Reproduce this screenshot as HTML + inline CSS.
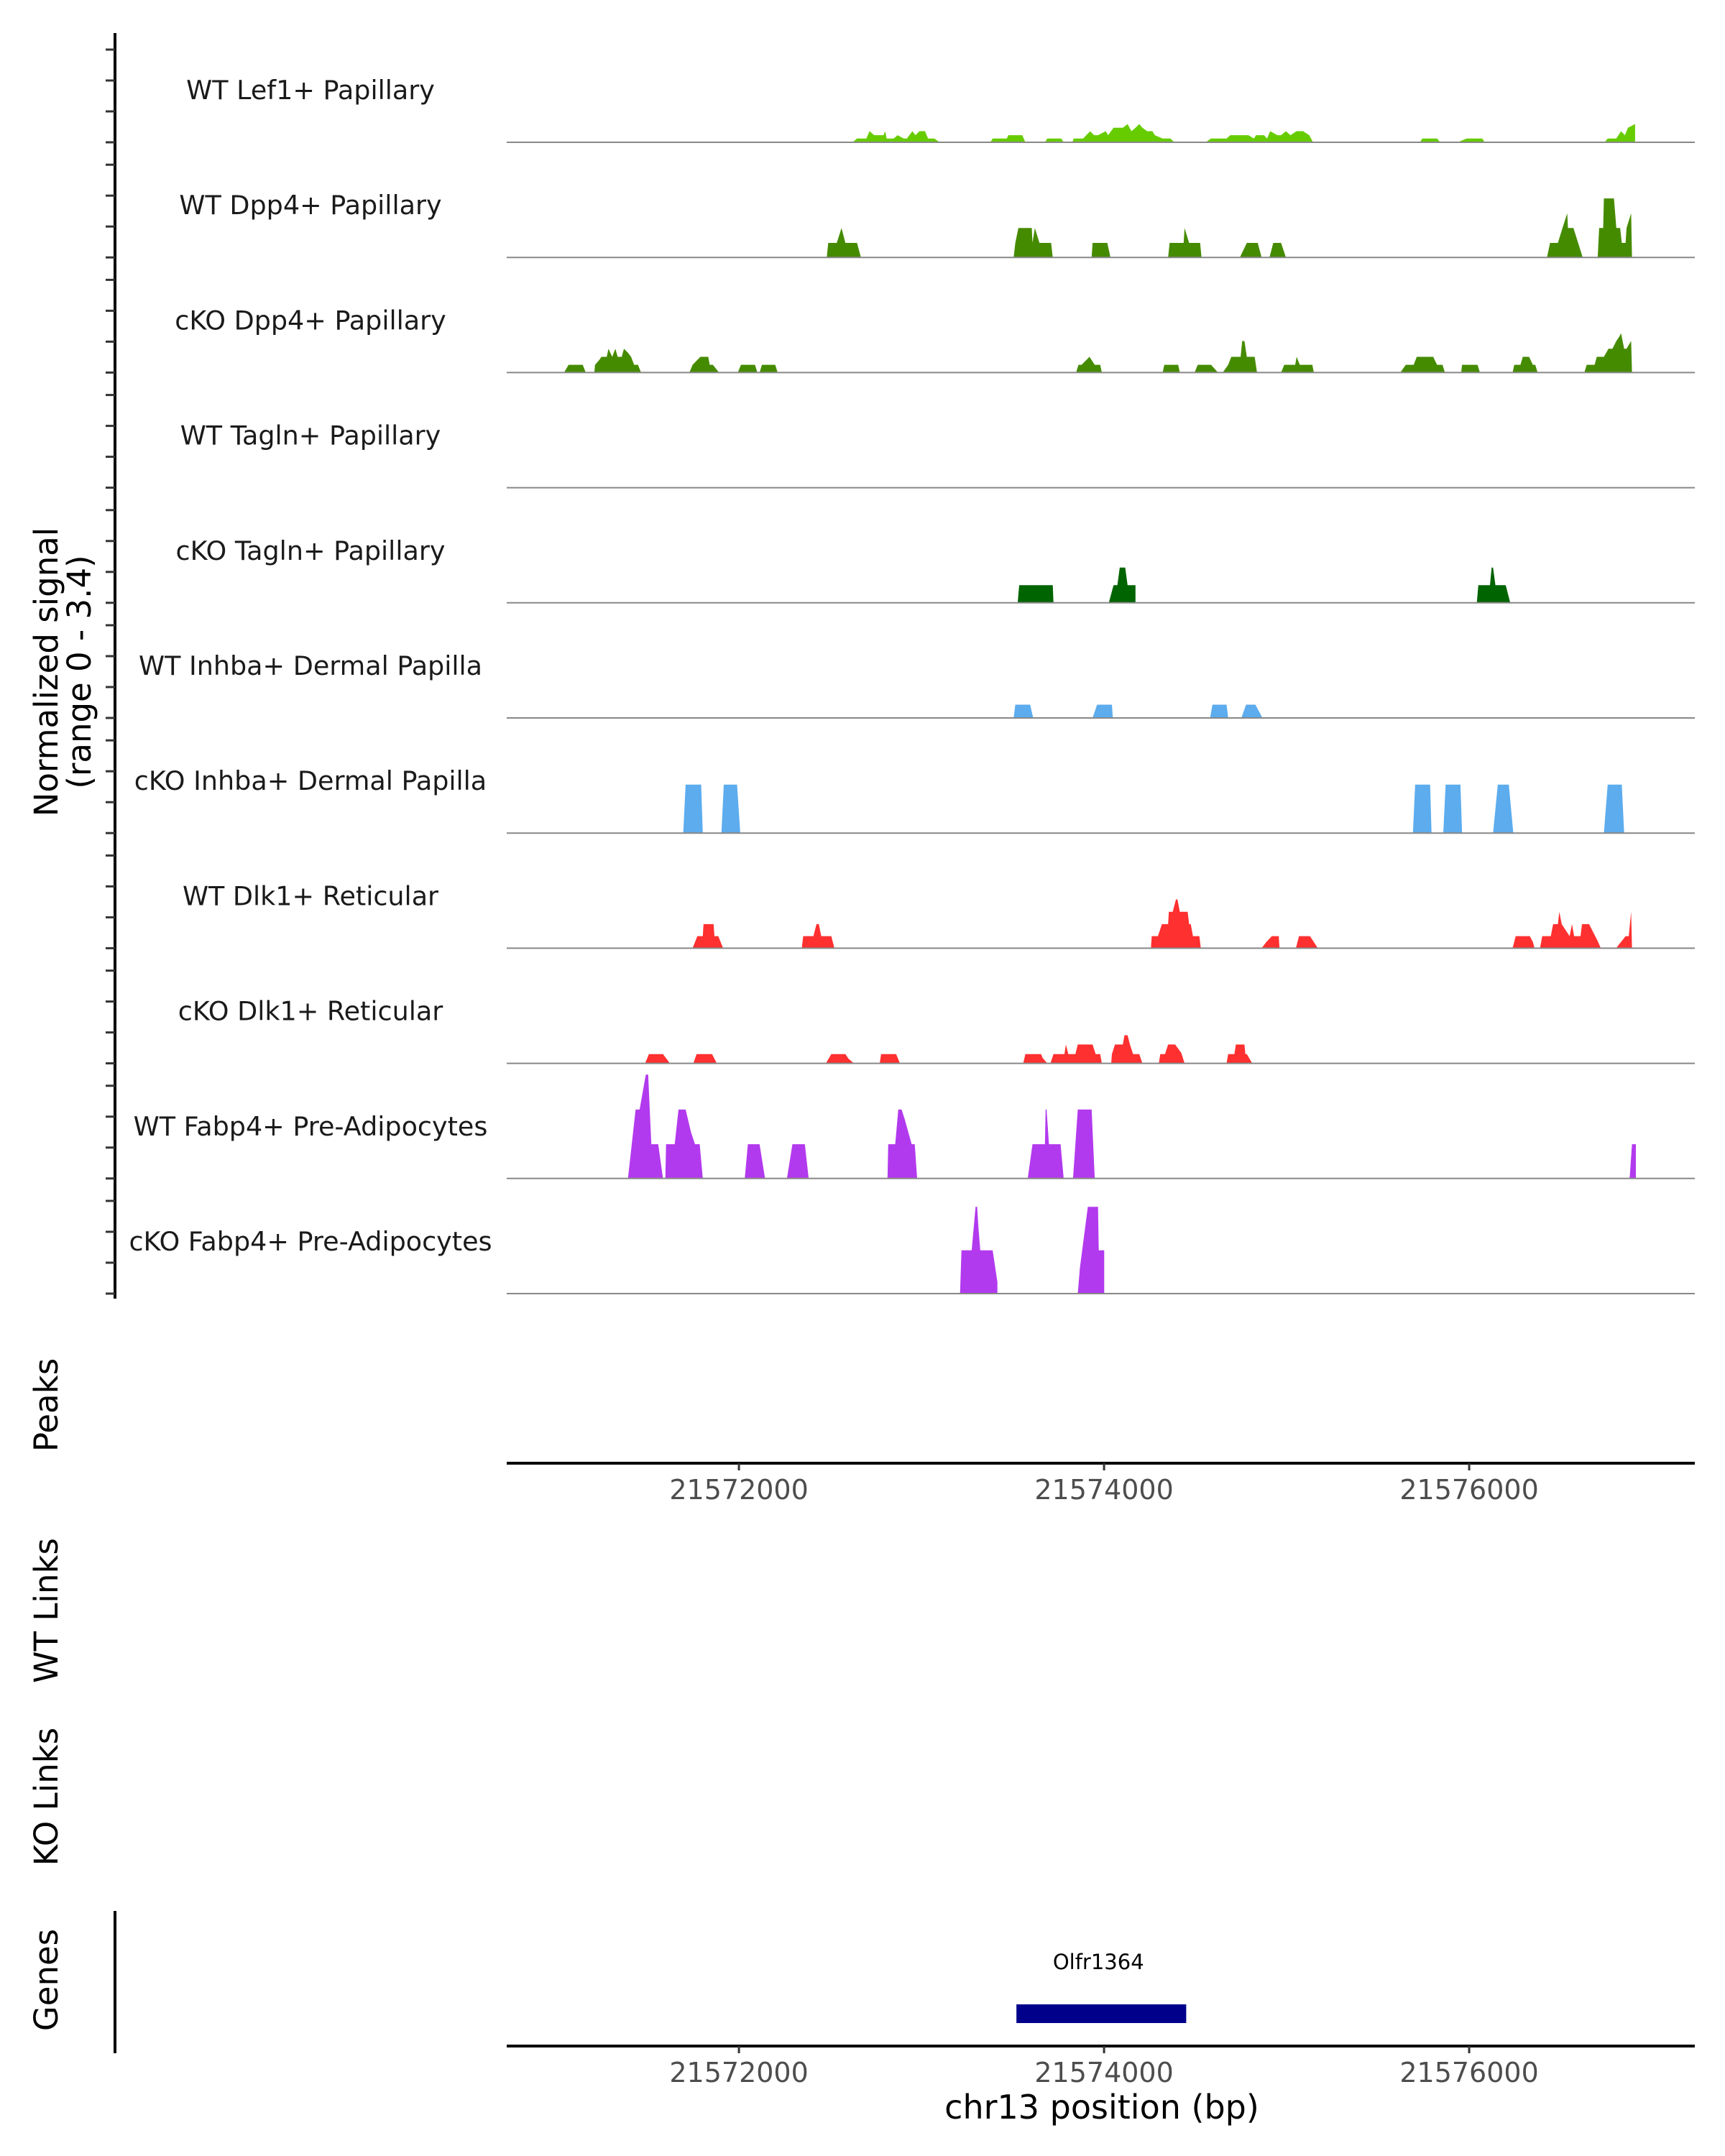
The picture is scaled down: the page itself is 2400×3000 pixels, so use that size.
<!DOCTYPE html>
<html><head><meta charset="utf-8">
<style>
html,body{margin:0;padding:0;background:#fff;}
svg{display:block;font-family:"DejaVu Sans","Liberation Sans",sans-serif;}
</style></head>
<body>
<svg id="chart" width="2400" height="3000" viewBox="0 0 2400 3000" xmlns="http://www.w3.org/2000/svg">
<g id="tracks"></g>
<line x1="160" y1="46" x2="160" y2="1807" stroke="#000" stroke-width="4"/>
<g id="yticks"></g>
<text transform="translate(80,935) rotate(-90)" text-anchor="middle" font-size="45" fill="#000">Normalized signal</text>
<text transform="translate(126,935) rotate(-90)" text-anchor="middle" font-size="45" fill="#000">(range 0 - 3.4)</text>
<text transform="translate(80,1955) rotate(-90)" text-anchor="middle" font-size="45">Peaks</text>
<text transform="translate(80,2241) rotate(-90)" text-anchor="middle" font-size="45">WT Links</text>
<text transform="translate(80,2500) rotate(-90)" text-anchor="middle" font-size="45">KO Links</text>
<text transform="translate(80,2755) rotate(-90)" text-anchor="middle" font-size="45">Genes</text>
<line x1="160" y1="2659" x2="160" y2="2857" stroke="#000" stroke-width="4"/>
<g id="xaxes"></g>
<g id="genes"></g>
<text x="1533" y="2948" text-anchor="middle" font-size="46">chr13 position (bp)</text>
</svg>
<script>
const regionStart = 21570000;
const trackNames = ["WT Lef1+ Papillary","WT Dpp4+ Papillary","cKO Dpp4+ Papillary","WT Tagln+ Papillary","cKO Tagln+ Papillary","WT Inhba+ Dermal Papilla","cKO Inhba+ Dermal Papilla","WT Dlk1+ Reticular","cKO Dlk1+ Reticular","WT Fabp4+ Pre-Adipocytes","cKO Fabp4+ Pre-Adipocytes"];
const trackColors = ["#66CC00","#458B00","#458B00","#006400","#006400","#5CACEE","#5CACEE","#FF3030","#FF3030","#B23AEE","#B23AEE"];
const xTickValues = [21572000,21574000,21576000];
const geneName = "Olfr1364";
const geneStart = 21573520, geneEnd = 21574450;

// positions are bp offsets from regionStart; values normalized signal
const lef1Pos = [2622,2647,2698,2715,2741,2792,2801,2809,2848,2869,2903,2920,2950,2967,2989,3019,3036,3070,3100, 3377,3390,3467,3476,3552,3569, 3676,3689,3766,3779, 3826,3834,3885,3903,3924,3945,3967,4009,4022,4052,4103,4129,4150,4172,4193,4210,4236,4265,4278,4321,4364,4385, 4556,4586,4671,4692,4791,4821,4833,4876,4893,4910,4949,4970,4996,5021,5055,5090,5124,5145, 5730,5743,5824,5841, 5935,5986,6072,6085, 6742,6759,6806,6832,6853,6870,6909,6909];
const lef1Val = [0,0.12,0.12,0.36,0.23,0.23,0.36,0.12,0.12,0.23,0.12,0.12,0.36,0.23,0.36,0.36,0.12,0.12,0, 0,0.12,0.12,0.23,0.23,0, 0,0.12,0.12,0, 0,0.12,0.12,0.23,0.36,0.23,0.23,0.36,0.23,0.47,0.47,0.59,0.36,0.47,0.59,0.47,0.36,0.36,0.23,0.12,0.12,0, 0,0.12,0.12,0.23,0.23,0.12,0.23,0.23,0.12,0.36,0.23,0.23,0.36,0.23,0.36,0.36,0.23,0, 0,0.12,0.12,0, 0,0.12,0.12,0, 0,0.12,0.12,0.36,0.23,0.47,0.59,0];

const wtDpp4Pos = [2481,2489,2536,2562,2583,2647,2668, 3505,3514,3531,3604,3608,3621,3646,3710,3719, 3932,3937,4018,4035, 4351,4359,4436,4441,4466,4526,4534, 4744,4782,4842,4863, 4906,4927,4970,4996, 6426,6443,6486,6511,6537,6541,6571,6597,6622, 6704,6712,6734,6738,6793,6806,6827,6836,6857,6862,6887,6892];
const wtDpp4Val = [0,0.47,0.47,0.95,0.47,0.47,0, 0,0.47,0.95,0.95,0.47,0.95,0.47,0.47,0, 0,0.47,0.47,0, 0,0.47,0.47,0.95,0.47,0.47,0, 0,0.47,0.47,0, 0,0.47,0.47,0, 0,0.47,0.47,0.95,1.43,0.95,0.95,0.47,0, 0,0.95,0.95,1.91,1.91,0.95,0.95,0.47,0.47,0.95,1.43,0];

const koDpp4Pos = [1042,1067,1144,1161, 1208,1212,1234,1247,1276,1285,1306,1323,1336,1358,1370,1392,1409,1426,1447,1464, 1729,1746,1789,1832,1840,1857,1891, 1994,2011,2088,2101,2113,2126,2199,2212, 3847,3860,3877,3920,3949,3979,3988, 4321,4330,4406,4415, 4496,4513,4586,4624, 4650,4680,4697,4748,4757,4769,4782,4825,4838, 4970,4987,5047,5055,5072,5141,5149, 5623,5653,5696,5713,5803,5824,5854,5867, 5956,5961,6046,6059, 6238,6247,6281,6294,6328,6349,6362,6375, 6631,6644,6687,6699,6738,6763,6785,6806,6823,6832,6849,6862,6887,6892];
const koDpp4Val = [0,0.25,0.25,0, 0,0.25,0.4,0.51,0.51,0.77,0.51,0.77,0.51,0.51,0.77,0.64,0.51,0.25,0.25,0, 0,0.25,0.51,0.51,0.25,0.25,0, 0,0.25,0.25,0,0,0.25,0.25,0, 0,0.25,0.25,0.51,0.25,0.25,0, 0,0.25,0.25,0, 0,0.25,0.25,0, 0,0.25,0.51,0.51,1.02,1.02,0.51,0.51,0, 0,0.25,0.25,0.51,0.25,0.25,0, 0,0.25,0.25,0.51,0.51,0.25,0.25,0, 0,0.25,0.25,0, 0,0.25,0.25,0.51,0.51,0.25,0.25,0, 0,0.25,0.25,0.51,0.51,0.77,0.77,1.02,1.17,1.27,0.77,0.77,1.02,0];

const wtTaglnPos = [];
const wtTaglnVal = [];

const koTaglnPos = [3527,3535,3719,3723, 4026,4052,4073,4086,4116,4129,4172,4172, 6042,6050,6114,6123,6131,6144,6200,6225];
const koTaglnVal = [0,0.57,0.57,0, 0,0.57,0.57,1.14,1.14,0.57,0.57,0, 0,0.57,0.57,1.14,1.14,0.57,0.57,0];

const wtInhbaPos = [3505,3514,3595,3612, 3937,3962,4043,4048, 4581,4594,4671,4680, 4752,4778,4829,4868];
const wtInhbaVal = [0,0.43,0.43,0, 0,0.43,0.43,0, 0,0.43,0.43,0, 0,0.43,0.43,0];

const koInhbaPos = [1695,1708,1793,1802, 1904,1917,1990,2007, 5692,5704,5786,5794, 5858,5871,5952,5961, 6131,6157,6217,6242, 6738,6759,6836,6849];
const koInhbaVal = [0,1.57,1.57,0, 0,1.57,1.57,0, 0,1.57,1.57,0, 0,1.57,1.57,0, 0,1.57,1.57,0, 0,1.57,1.57,0];

const wtDlk1Pos = [1746,1772,1802,1806,1861,1866,1887,1913, 2344,2352,2408,2425,2438,2451,2506,2523, 4257,4261,4295,4317,4351,4355,4376,4394,4402,4415,4458,4466,4475,4487,4522,4530, 4863,4889,4919,4957,4961, 5051,5068,5128,5171, 6238,6255,6332,6349,6358, 6388,6400,6447,6460,6486,6494,6507,6550,6563,6575,6610,6618,6657,6704,6721, 6806,6815,6857,6874,6887,6892];
const wtDlk1Val = [0,0.39,0.39,0.78,0.78,0.39,0.39,0, 0,0.39,0.39,0.78,0.78,0.39,0.39,0, 0,0.39,0.39,0.78,0.78,1.18,1.18,1.58,1.58,1.18,1.18,0.78,0.78,0.39,0.39,0, 0,0.2,0.39,0.39,0, 0,0.39,0.39,0, 0,0.39,0.39,0.2,0, 0,0.39,0.39,0.78,0.78,1.18,0.78,0.39,0.78,0.39,0.39,0.78,0.78,0.23,0, 0,0.08,0.39,0.39,1.18,0];

const koDlk1Pos = [1486,1507,1584,1622, 1750,1768,1853,1879, 2476,2506,2583,2600,2630, 2771,2779,2861,2882, 3557,3569,3655,3663,3689, 3706,3723,3783,3791,3804,3843,3856,3937,3954,3979,3988, 4039,4043,4060,4103,4112,4129,4142,4159,4193,4210, 4300,4308,4334,4351,4389,4423,4441, 4671,4680,4714,4722,4769,4774,4782,4812];
const koDlk1Val = [0,0.3,0.3,0, 0,0.3,0.3,0, 0,0.3,0.3,0.15,0, 0,0.3,0.3,0, 0,0.3,0.3,0.18,0, 0,0.3,0.3,0.61,0.3,0.3,0.61,0.61,0.3,0.3,0, 0,0.3,0.61,0.61,0.91,0.91,0.61,0.3,0.3,0, 0,0.3,0.3,0.61,0.61,0.34,0, 0,0.3,0.3,0.61,0.61,0.3,0.3,0];

const wtFabp4Pos = [1392,1434,1456,1490,1503,1520,1558,1584, 1597,1601,1648,1669,1708,1733,1738,1759,1785,1802, 2032,2049,2113,2143, 2263,2293,2361,2382, 2814,2818,2856,2873,2891,2908,2946,2963,2976, 3582,3608,3676,3680,3685,3698,3762,3779, 3830,3856,3932,3949, 6879,6892,6913,6913];
const wtFabp4Val = [0,2.23,2.23,3.36,3.36,1.11,1.11,0, 0,1.11,1.11,2.23,2.23,1.61,1.49,1.11,1.11,0, 0,1.11,1.11,0, 0,1.11,1.11,0, 0,1.11,1.11,2.23,2.23,1.92,1.11,1.11,0, 0,1.11,1.11,2.23,2.23,1.11,1.11,0, 0,2.23,2.23,0, 0,1.11,1.11,0];

const koFabp4Pos = [3211,3219,3275,3296,3305,3313,3322,3390,3416,3416, 3856,3868,3911,3967,3971,4001,4001];
const koFabp4Val = [0,1.40,1.40,2.81,2.81,2.04,1.40,1.40,0.37,0, 0,0.84,2.81,2.81,1.40,1.40,0];

const trackPos = [lef1Pos,wtDpp4Pos,koDpp4Pos,wtTaglnPos,koTaglnPos,wtInhbaPos,koInhbaPos,wtDlk1Pos,koDlk1Pos,wtFabp4Pos,koFabp4Pos];
const trackVal = [lef1Val,wtDpp4Val,koDpp4Val,wtTaglnVal,koTaglnVal,wtInhbaVal,koInhbaVal,wtDlk1Val,koDlk1Val,wtFabp4Val,koFabp4Val];

const NS = "http://www.w3.org/2000/svg";
const plotL = 705, plotR = 2358;
const domL = regionStart + 728, domR = regionStart + 7236;
function xScale(bp){ return plotL + (bp - domL) / (domR - domL) * (plotR - plotL); }
const firstBase = 198, trackStep = 160.2, unitPx = 43;
function baseY(i){ return firstBase + i * trackStep; }
function yScale(i, v){ return baseY(i) - v * unitPx; }
function mk(tag, attrs, parent){ const e = document.createElementNS(NS, tag); for (const k in attrs) e.setAttribute(k, attrs[k]); parent.appendChild(e); return e; }

const tracksG = document.getElementById('tracks');
const ticksG = document.getElementById('yticks');
trackNames.forEach((name, i) => {
  const by = baseY(i);
  const pos = trackPos[i], val = trackVal[i];
  if (pos.length) {
    let d = "M" + xScale(regionStart + pos[0]).toFixed(1) + "," + by.toFixed(1);
    for (let k = 0; k < pos.length; k++) d += " L" + xScale(regionStart + pos[k]).toFixed(1) + "," + yScale(i, val[k]).toFixed(1);
    d += " L" + xScale(regionStart + pos[pos.length - 1]).toFixed(1) + "," + by.toFixed(1) + " Z";
    const p = mk('path', {d: d, fill: trackColors[i]}, tracksG);
    
    
  }
  const bl = mk('line', {x1: plotL, x2: plotR, y1: by, y2: by, stroke: '#888', 'stroke-width': 2}, tracksG);
  
  
  const t = mk('text', {x: 432, y: by - 60, 'text-anchor': 'middle', 'font-size': 36.5, fill: '#1a1a1a'}, tracksG);
  t.textContent = name;
  
  
  for (let k = 0; k < 4; k++) {
    const ty = by - k * unitPx;
    const tk = mk('line', {x1: 147, x2: 160, y1: ty, y2: ty, stroke: '#333', 'stroke-width': 3}, ticksG);
    
    
  }
});

const axesG = document.getElementById('xaxes');
[2036, 2847].forEach(ay => {
  const al = mk('line', {x1: 705, x2: 2358, y1: ay, y2: ay, stroke: '#000', 'stroke-width': 4}, axesG);
  
  
  xTickValues.forEach(v => {
    const x = xScale(v);
    const tk = mk('line', {x1: x, x2: x, y1: ay, y2: ay + 10, stroke: '#333', 'stroke-width': 3}, axesG);
    
    
    const tl = mk('text', {x: x, y: ay + 50, 'text-anchor': 'middle', 'font-size': 38, fill: '#4d4d4d'}, axesG);
    tl.textContent = String(v);
    
    
  });
});

const genesG = document.getElementById('genes');
const gx1 = xScale(geneStart), gx2 = xScale(geneEnd);
const gb = mk('rect', {x: gx1, y: 2789, width: gx2 - gx1, height: 26, fill: '#00008B'}, genesG);


const gl = mk('text', {x: (gx1 + gx2) / 2 - 4, y: 2740, 'text-anchor': 'middle', 'font-size': 29, fill: '#000'}, genesG);
gl.textContent = geneName;


</script>
</body></html>
